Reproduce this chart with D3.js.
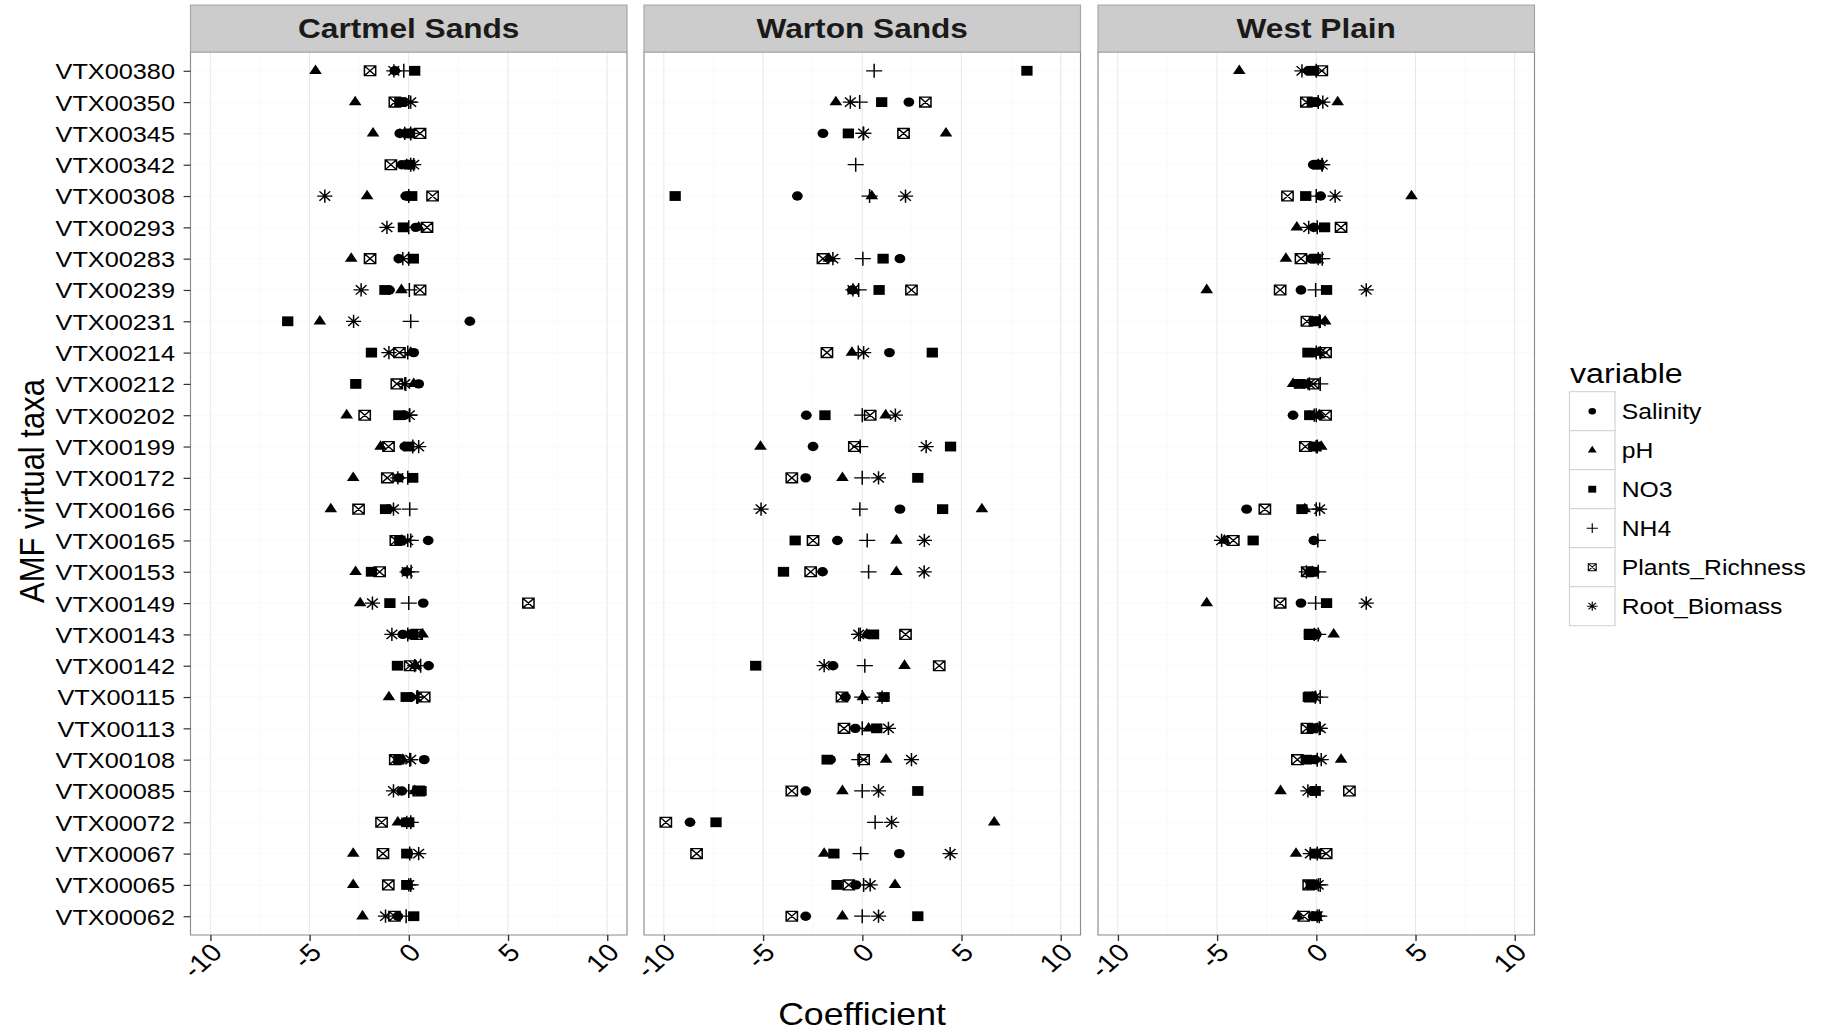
<!DOCTYPE html>
<html>
<head>
<meta charset="utf-8">
<script src="https://cdn.jsdelivr.net/npm/d3@7"></script>
<style>
  html, body { margin: 0; padding: 0; background: #fff; }
  svg { display: block; }
  text { font-family: "Liberation Sans", Arial, Helvetica, sans-serif; }
</style>
</head>
<body>
<svg id="chart"></svg>
<script>
// ---- data ---------------------------------------------------------------
const taxa = ["VTX00380","VTX00350","VTX00345","VTX00342","VTX00308","VTX00293","VTX00283",
  "VTX00239","VTX00231","VTX00214","VTX00212","VTX00202","VTX00199","VTX00172","VTX00166",
  "VTX00165","VTX00153","VTX00149","VTX00143","VTX00142","VTX00115","VTX00113","VTX00108",
  "VTX00085","VTX00072","VTX00067","VTX00065","VTX00062"];

const sites = ["Cartmel Sands", "Warton Sands", "West Plain"];
const variables = ["Salinity", "pH", "NO3", "NH4", "Plants_Richness", "Root_Biomass"];
const xTicks = [-10, -5, 0, 5, 10];

// Cartmel Sands coefficients, one value per taxon (null = not estimated)
const cartmelSalinity = [-0.7,-0.3,-0.45,-0.35,-0.15,0.35,-0.5,-0.97,3.08,0.25,0.5,-0.2,-0.2,-0.5,
  -1.05,0.98,-0.13,0.73,-0.3,1.0,0.1,null,0.78,-0.35,-0.2,-0.05,-0.05,-0.55];
const cartmelPH = [-4.7,-2.7,-1.8,-0.1,-2.1,0.5,-2.9,-0.37,-4.48,0.1,0.25,-3.13,-1.42,-2.8,
  -3.93,-0.35,-2.68,-2.45,0.7,0.35,-1.0,null,-0.3,0.3,-0.55,-2.8,-2.8,-2.33];
const cartmelNO3 = [0.3,-0.45,0.0,0.05,0.15,-0.27,0.23,-1.2,-6.1,-1.88,-2.67,-0.5,0.0,0.2,
  -1.17,-0.45,-1.88,-0.95,0.2,-0.57,-0.13,null,-0.5,0.62,0.0,-0.1,-0.1,0.25];
const cartmelNH4 = [-0.25,0.0,0.1,0.1,0.0,0.0,0.0,0.03,0.1,-0.05,-0.15,0.05,0.2,-0.05,
  0.05,0.1,0.12,0.0,-0.05,0.6,0.45,null,0.05,0.0,0.1,0.05,0.1,-0.13];
const cartmelPlants = [-1.95,-0.7,0.57,-0.9,1.2,0.92,-1.95,0.57,null,-0.47,-0.6,-2.22,-1.02,-1.08,
  -2.53,-0.65,-1.47,6.03,0.4,0.07,0.78,null,-0.68,0.5,-1.37,-1.3,-1.03,-0.72];
const cartmelRoot = [-0.75,0.1,-0.2,0.25,-4.23,-1.1,-0.3,-2.4,-2.78,-1.0,-0.2,0.03,0.5,-0.55,
  -0.77,-0.05,-0.08,-1.83,-0.85,0.3,0.4,null,0.1,-0.77,-0.1,0.5,0.0,-1.17];

// Warton Sands
const wartonSalinity = [null,2.35,-1.98,null,-3.27,null,1.9,-0.5,null,1.37,null,-2.82,-2.48,-2.85,
  1.9,-1.25,-2.0,null,0.3,-1.47,-0.85,-0.35,-1.6,-2.85,-8.68,1.87,-0.32,-2.85];
const wartonPH = [null,-1.33,4.22,null,0.48,null,-1.68,-0.45,null,-0.52,null,1.18,-5.13,-1.0,
  6.03,1.72,1.72,null,0.23,2.13,0.03,0.32,1.2,-1.0,6.65,-1.92,1.65,-1.0];
const wartonNO3 = [8.3,0.98,-0.7,null,-9.43,null,1.05,0.85,null,3.53,null,-1.88,4.45,2.8,
  4.05,-3.38,-3.97,null,0.57,-5.37,1.1,0.73,-1.77,2.8,-7.37,-1.43,-1.27,2.8];
const wartonNH4 = [0.6,-0.13,0.05,-0.33,0.37,null,0.03,-0.18,null,-0.2,null,0.0,-0.1,0.0,
  -0.12,0.25,0.32,null,-0.1,0.13,0.0,0.0,-0.15,0.0,0.65,-0.08,0.07,0.0];
const wartonPlants = [null,3.18,2.08,null,null,null,-1.98,2.48,null,-1.78,null,0.4,-0.4,-3.55,
  null,-2.48,-2.6,null,2.18,3.88,-1.02,-0.92,0.07,-3.55,-9.9,-8.35,-0.68,-3.55];
const wartonRoot = [null,-0.6,0.07,null,2.18,null,-1.48,-0.47,null,0.07,null,1.67,3.22,0.82,
  -5.1,3.13,3.12,null,-0.18,-1.92,1.0,1.32,2.48,0.82,1.48,4.43,0.4,0.82];

// West Plain
const westSalinity = [-0.4,0.0,null,-0.15,0.22,-0.12,-0.25,-0.77,0.0,-0.15,-0.6,-1.17,-0.15,null,
  -3.51,-0.12,-0.1,-0.77,0.0,null,-0.15,-0.1,-0.1,-0.2,null,-0.1,-0.05,-0.15];
const westPH = [-3.88,1.08,null,0.1,4.8,-0.98,-1.53,-5.52,0.45,0.1,-1.17,0.15,0.25,null,
  -0.58,-4.63,-0.2,-5.52,0.88,null,-0.2,0.05,1.25,-1.8,null,-1.02,0.0,-0.92];
const westNO3 = [-0.15,-0.2,null,0.1,-0.53,0.42,-0.05,0.52,-0.1,-0.42,-0.85,-0.33,-0.05,null,
  -0.72,-3.18,-0.2,0.52,-0.35,null,-0.4,-0.2,-0.5,-0.05,null,-0.05,-0.25,0.0];
const westNH4 = [0.0,0.1,null,0.3,0.0,0.05,0.3,-0.03,0.15,0.0,0.2,0.0,0.05,null,
  0.0,0.08,0.1,-0.03,0.1,null,0.2,0.15,0.05,0.0,null,0.05,0.2,0.15];
const westPlants = [0.28,-0.5,null,null,-1.45,1.25,-0.77,-1.82,-0.47,0.47,-0.15,0.47,-0.55,null,
  -2.59,-4.18,-0.45,-1.82,-0.3,null,-0.3,-0.47,-0.95,1.67,null,0.5,-0.38,-0.63];
const westRoot = [-0.72,0.33,null,0.3,0.95,-0.38,0.1,2.52,0.2,0.2,-0.35,-0.1,0.0,null,
  0.17,-4.77,-0.5,2.52,-0.1,null,-0.05,0.2,0.25,-0.42,null,-0.3,0.1,0.05];

const siteSeries = [
  [cartmelSalinity, cartmelPH, cartmelNO3, cartmelNH4, cartmelPlants, cartmelRoot],
  [wartonSalinity, wartonPH, wartonNO3, wartonNH4, wartonPlants, wartonRoot],
  [westSalinity, westPH, westNO3, westNH4, westPlants, westRoot]
];

// ---- layout ---------------------------------------------------------------
const W = 1830, H = 1032;
const SX = 1.15;                 // horizontal stretch of the whole figure
const vx = px => px / SX;        // page pixels -> drawing units
const panelX = [[190.5, 627], [644, 1080.5], [1098, 1534.5]];
const plotTop = 52, plotBottom = 935, stripTop = 5;
const FONT = "'Liberation Sans', Arial, Helvetica, sans-serif";

const svg = d3.select("#chart")
  .attr("width", W).attr("height", H)
  .attr("viewBox", `0 0 ${W / SX} ${H}`)
  .attr("preserveAspectRatio", "none");

svg.append("rect").attr("width", W / SX).attr("height", H).attr("fill", "#fff");

const y = d3.scalePoint().domain(taxa).range([plotTop, plotBottom]).padding(0.6);

// point glyphs: filled circle, filled triangle, filled square, plus, boxed cross, asterisk
function markPath(v, s) {
  if (v === "Salinity") { const r = 4.7 * s; return `M${r},0A${r},${r} 0 1,1 ${-r},0A${r},${r} 0 1,1 ${r},0Z`; }
  if (v === "pH") { const a = 11 * s, h = a * Math.sqrt(3) / 2; return `M0,${-2*h/3}L${a/2},${h/3}L${-a/2},${h/3}Z`; }
  if (v === "NO3") { const a = 9.8 * s / 2; return `M${-a},${-a}H${a}V${a}H${-a}Z`; }
  if (v === "NH4") { const r = 7 * s; return `M${-r},0H${r}M0,${-r}V${r}`; }
  if (v === "Plants_Richness") { const a = 9.8 * s / 2; return `M${-a},${-a}H${a}V${a}H${-a}ZM${-a},${-a}L${a},${a}M${a},${-a}L${-a},${a}`; }
  const r = 6.6 * s, d = r * Math.SQRT1_2;
  return `M${-r},0H${r}M0,${-r}V${r}M${-d},${-d}L${d},${d}M${d},${-d}L${-d},${d}`;
}
const filled = v => v === "Salinity" || v === "pH" || v === "NO3";

sites.forEach((site, i) => {
  const [l, r] = panelX[i];
  const x = d3.scaleLinear().domain([-11, 11]).range([vx(l), vx(r)]);
  const g = svg.append("g").attr("class", "panel");

  g.append("rect").attr("x", vx(l)).attr("y", plotTop)
    .attr("width", vx(r) - vx(l)).attr("height", plotBottom - plotTop).attr("fill", "#fff");

  // grid
  g.append("g").selectAll("line").data(taxa).join("line")
    .attr("x1", vx(l)).attr("x2", vx(r)).attr("y1", d => y(d)).attr("y2", d => y(d))
    .attr("stroke", "#fafafa").attr("stroke-width", 1);
  g.append("g").selectAll("line").data([-7.5, -2.5, 2.5, 7.5]).join("line")
    .attr("x1", d => x(d)).attr("x2", d => x(d)).attr("y1", plotTop).attr("y2", plotBottom)
    .attr("stroke", "#fafafa").attr("stroke-width", 0.9);
  g.append("g").selectAll("line").data(xTicks).join("line")
    .attr("x1", d => x(d)).attr("x2", d => x(d)).attr("y1", plotTop).attr("y2", plotBottom)
    .attr("stroke", "#e8e8e8").attr("stroke-width", 0.9);

  // points, one layer per variable
  variables.forEach((v, k) => {
    const vals = siteSeries[i][k];
    const pts = taxa.map((t, j) => ({ taxon: t, value: vals[j] })).filter(p => p.value !== null);
    g.append("g").attr("class", "pts-" + v).selectAll("path").data(pts).join("path")
      .attr("transform", p => `translate(${x(p.value)},${y(p.taxon)})`)
      .attr("d", markPath(v, 1))
      .attr("fill", filled(v) ? "#000" : "none")
      .attr("stroke", filled(v) ? "none" : "#000")
      .attr("stroke-width", 1.3);
  });

  // panel border
  g.append("rect").attr("x", vx(l)).attr("y", plotTop)
    .attr("width", vx(r) - vx(l)).attr("height", plotBottom - plotTop)
    .attr("fill", "none").attr("stroke", "#8c8c8c").attr("stroke-width", 1);

  // facet strip
  g.append("rect").attr("x", vx(l)).attr("y", stripTop)
    .attr("width", vx(r) - vx(l)).attr("height", plotTop - stripTop)
    .attr("fill", "#cccccc").attr("stroke", "#a6a6a6").attr("stroke-width", 1);
  g.append("text").attr("x", (vx(l) + vx(r)) / 2).attr("y", (stripTop + plotTop) / 2 + 9.8)
    .attr("text-anchor", "middle").attr("font-size", 27.5).attr("font-weight", "bold")
    .attr("fill", "#1a1a1a").text(site);

  // x axis
  const ax = g.append("g").attr("transform", `translate(0,${plotBottom})`)
    .call(d3.axisBottom(x).tickValues(xTicks).tickSize(6).tickFormat(d => String(d)));
  ax.select(".domain").remove();
  ax.selectAll(".tick line").attr("stroke", "#333").attr("stroke-width", 1.2);
  ax.selectAll(".tick text")
    .attr("x", 0).attr("y", 0).attr("dy", null)
    .attr("text-anchor", "end")
    .attr("transform", `translate(${13 / SX},19) rotate(-45)`)
    .attr("font-size", 25).attr("font-family", FONT).attr("fill", "#000");

  // y axis on the first panel only
  if (i === 0) {
    const ay = g.append("g").attr("transform", `translate(${vx(l)},0)`)
      .call(d3.axisLeft(y).tickSize(6).tickPadding(7.5));
    ay.select(".domain").remove();
    ay.selectAll(".tick line").attr("stroke", "#333").attr("stroke-width", 1.2);
    ay.selectAll(".tick text").attr("dy", "0.36em")
      .attr("font-size", 22).attr("font-family", FONT).attr("fill", "#000");
  }
});

// axis titles
svg.append("text").attr("x", vx(862)).attr("y", 1025).attr("text-anchor", "middle")
  .attr("font-size", 31).attr("fill", "#000").text("Coefficient");
svg.append("text").attr("transform", `translate(38,491) rotate(-90)`).attr("text-anchor", "middle")
  .attr("font-size", 31).attr("fill", "#000").text("AMF virtual taxa");

// legend
const lg = svg.append("g").attr("class", "legend");
const keyX = vx(1569.5), keyW = vx(1615) - vx(1569.5), keyTop = 391.7, keyH = 39;
lg.append("text").attr("x", vx(1570)).attr("y", 383).attr("font-size", 28).attr("fill", "#000").text("variable");
variables.forEach((v, k) => {
  const yy = keyTop + k * keyH;
  lg.append("rect").attr("x", keyX).attr("y", yy).attr("width", keyW).attr("height", keyH)
    .attr("fill", "#fff").attr("stroke", "#d0d0d0").attr("stroke-width", 1);
  lg.append("path").attr("transform", `translate(${keyX + keyW / 2},${yy + keyH / 2})`)
    .attr("d", markPath(v, 0.7))
    .attr("fill", filled(v) ? "#000" : "none")
    .attr("stroke", filled(v) ? "none" : "#000")
    .attr("stroke-width", 1);
  lg.append("text").attr("x", vx(1621.7)).attr("y", yy + keyH / 2 + 7.8)
    .attr("font-size", 21.5).attr("fill", "#000").text(v);
});
</script>
</body>
</html>
